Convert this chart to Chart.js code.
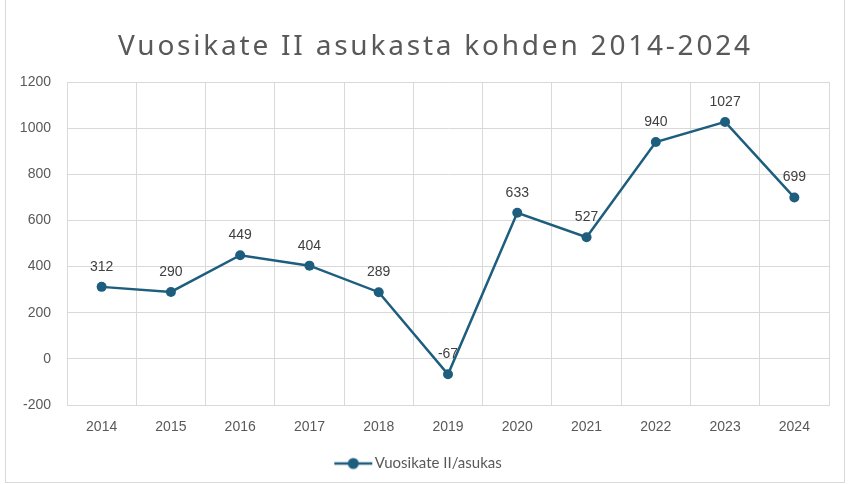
<!DOCTYPE html>
<html>
<head>
<meta charset="utf-8">
<script src="https://cdn.jsdelivr.net/npm/chart.js@4"></script>
<style>
  body { margin: 0; background: #fff; }
  #wrap { position: absolute; left: 5px; top: -1px; width: 840px; height: 484px; border: 1px solid #d9d9d9; box-sizing: border-box; }
  #box { position: absolute; left: 0; top: 0; width: 850px; height: 484px; }
</style>
</head>
<body>
<div id="wrap"></div>
<div id="box"><canvas id="vuosikateChart"></canvas></div>
<script>
// Vuosikate II / asukas
const chartTitle = 'Vuosikate II asukasta kohden 2014-2024';
const years = ['2014', '2015', '2016', '2017', '2018', '2019', '2020', '2021', '2022', '2023', '2024'];
const values = [312, 290, 449, 404, 289, -67, 633, 527, 940, 1027, 699];
const seriesName = 'Vuosikate II/asukas';
const yTicks = [-200, 0, 200, 400, 600, 800, 1000, 1200];

const lineColor = '#1d5e7e';
const textColor = '#595959';
const gridColor = '#d9d9d9';

// legend marker: line with a dot, shifted right so the text sits close to it
const marker = document.createElement('canvas');
marker.width = 54; marker.height = 14;
(function () {
    const c = marker.getContext('2d');
    c.strokeStyle = lineColor; c.lineWidth = 2.5;
    c.beginPath(); c.moveTo(14, 7); c.lineTo(52, 7); c.stroke();
    c.fillStyle = lineColor;
    c.beginPath(); c.arc(33, 7, 5.5, 0, Math.PI * 2); c.fill();
})();

// draws the value above each point
const valueLabels = {
    id: 'valueLabels',
    afterDatasetsDraw(chart) {
        const ctx = chart.ctx;
        const meta = chart.getDatasetMeta(0);
        ctx.save();
        ctx.font = '14px "Liberation Sans", Arial, sans-serif';
        ctx.fillStyle = '#404040';
        ctx.textAlign = 'center';
        ctx.textBaseline = 'bottom';
        meta.data.forEach((pt, i) => {
            ctx.fillText(String(values[i]), pt.x, pt.y - 13);
        });
        ctx.restore();
    }
};

// spaced-out title
const spacedTitle = {
    id: 'spacedTitle',
    afterDraw(chart) {
        const ctx = chart.ctx;
        ctx.save();
        ctx.font = '28px "Noto Sans", sans-serif';
        ctx.fillStyle = textColor;
        ctx.textBaseline = 'alphabetic';
        const plain = ctx.measureText(chartTitle).width;
        const spacing = Math.max(0, (632 - plain) / (chartTitle.length - 1));
        ctx.letterSpacing = spacing + 'px';
        const w = ctx.measureText(chartTitle).width - spacing;
        ctx.textAlign = 'left';
        ctx.fillText(chartTitle, 434 - w / 2, 55);
        ctx.restore();
    }
};

var vuosikateChart = new Chart(document.getElementById('vuosikateChart'), {
    type: 'line',
    data: {
        labels: years,
        datasets: [{
            label: seriesName,
            data: values,
            borderColor: lineColor,
            backgroundColor: lineColor,
            borderWidth: 2.5,
            pointRadius: 5,
            pointHoverRadius: 5,
            pointBackgroundColor: lineColor,
            pointBorderWidth: 0,
            tension: 0
        }]
    },
    options: {
        responsive: true,
        maintainAspectRatio: false,
        animation: false,
        layout: { padding: { top: 82, right: 21, bottom: 3, left: 0 } },
        plugins: {
            title: { display: false },
            tooltip: { enabled: false },
            legend: {
                position: 'bottom',
                labels: {
                    usePointStyle: true,
                    pointStyleWidth: 40,
                    color: textColor,
                    font: { family: 'Lato, "Liberation Sans", sans-serif', size: 15 },
                    padding: 10,
                    generateLabels: (chart) => [{
                        text: seriesName,
                        pointStyle: marker,
                        fillStyle: lineColor,
                        strokeStyle: lineColor,
                        lineWidth: 0,
                        fontColor: textColor,
                        datasetIndex: 0
                    }]
                }
            }
        },
        scales: {
            x: {
                offset: true,
                grid: { color: gridColor, lineWidth: 1, offset: true, drawTicks: false },
                border: { color: gridColor },
                ticks: {
                    color: textColor,
                    padding: 14,
                    font: { family: '"Liberation Sans", Arial, sans-serif', size: 14 }
                },
                afterFit: (scale) => { scale.height = 41; }
            },
            y: {
                min: -200,
                max: 1200,
                afterBuildTicks: (scale) => { scale.ticks = yTicks.map(v => ({ value: v })); },
                grid: { color: gridColor, lineWidth: 1, drawTicks: false },
                border: { color: gridColor },
                ticks: {
                    color: textColor,
                    padding: 16,
                    font: { family: '"Liberation Sans", Arial, sans-serif', size: 14 },
                    callback: (v) => String(v)
                },
                afterFit: (scale) => { scale.width = 67; }
            }
        }
    },
    plugins: [valueLabels, spacedTitle]
});
</script>
</body>
</html>
